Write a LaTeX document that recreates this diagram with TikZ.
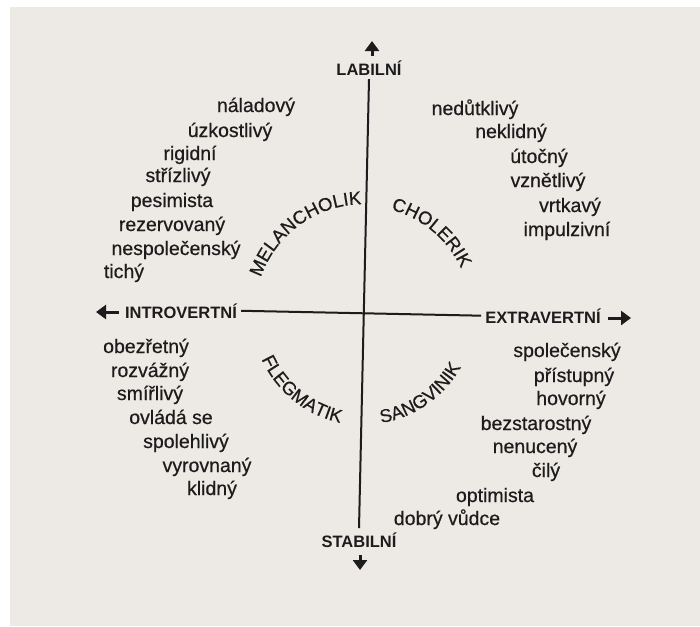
\documentclass[tikz,border=0pt]{standalone}
\usepackage{fontspec}
\setmainfont{Liberation Sans}
\newfontfamily\scanfamily{Liberation Sans}[FakeBold=0.5]
\usetikzlibrary{arrows.meta,decorations.text}
\definecolor{ink}{RGB}{28,28,28}
\definecolor{paper}{RGB}{237,233,228}
\newcommand{\wordfont}{\scanfamily\fontsize{19.5}{22}\selectfont}
\newcommand{\polefont}{\fontsize{16.5}{19}\selectfont\bfseries}
\newcommand{\typefont}{\scanfamily\fontsize{18.5}{21}\selectfont\color{ink}}

\begin{document}
\begin{tikzpicture}[x=1pt, y=1pt,
    word/.style={font=\wordfont, text=ink, inner sep=0pt, anchor=base},
    pole/.style={font=\polefont, text=ink, inner sep=4pt, anchor=base},
    axis/.style={draw=ink, line width=2pt},
    tip/.style={draw=ink, line width=3pt, -{Triangle[length=10pt,width=14pt]}},
    typearc/.style={decorate, decoration={text along path, text align=center}}
]
    % Paper
    \useasboundingbox (0,0) rectangle (700,-626);
    \fill[white] (0,0) rectangle (700,-626);
    \fill[paper] (10,-7) rectangle (700,-626);

    % Poles
    \node[pole] (labil) at (369,-75) {LABILNÍ};
    \node[pole] (stabil) at (359,-547) {STABILNÍ};
    \node[pole] (intro) at (181,-318) {INTROVERTNÍ};
    \node[pole] (extra) at (543,-323) {EXTRAVERTNÍ};

    \draw[axis] (labil.south) -- (stabil.north);
    \draw[axis] (intro.east) -- (extra.west);
    \coordinate (ctr) at (intersection of labil.south--stabil.north and intro.east--extra.west);

    % Small arrows
    \coordinate (upbase) at (372,-56);
    \coordinate (uptip) at (372,-41);
    \coordinate (downbase) at (360,-555);
    \coordinate (downtip) at (360,-570);
    \coordinate (leftbase) at (119,-312);
    \coordinate (lefttip) at (96,-312);
    \coordinate (rightbase) at (608,-318);
    \coordinate (righttip) at (631,-318);
    \draw[tip] (upbase) -- (uptip);
    \draw[tip] (downbase) -- (downtip);
    \draw[tip] (leftbase) -- (lefttip);
    \draw[tip] (rightbase) -- (righttip);

    % Types
    \path[typearc, decoration={text={|\typefont|MELANCHOLIK}}]
        ([shift={(171:109)}]ctr) arc[start angle=171, end angle=81, radius=109];
    \path[typearc, decoration={text={|\typefont|CHOLERIK}}]
        ([shift={(95:107)}]ctr) arc[start angle=95, end angle=5, radius=107];
    \path[typearc, decoration={text={|\typefont|FLEGMATIK}}]
        ([shift={(186:112)}]ctr) arc[start angle=186, end angle=276, radius=112];
    \path[typearc, decoration={text={|\typefont|SANGVINIK}}]
        ([shift={(260:111)}]ctr) arc[start angle=260, end angle=350, radius=111];

    % Melancholik
    \node[word] (mel1) at (256,-112) {náladový};
    \node[word] (mel2) at (230,-137) {úzkostlivý};
    \node[word] (mel3) at (190,-160) {rigidní};
    \node[word] (mel4) at (178,-182) {střízlivý};
    \node[word] (mel5) at (172,-207) {pesimista};
    \node[word] (mel6) at (172,-231) {rezervovaný};
    \node[word] (mel7) at (176,-255) {nespolečenský};
    \node[word] (mel8) at (124,-278) {tichý};

    % Cholerik
    \node[word] (cho1) at (475,-115) {nedůtklivý};
    \node[word] (cho2) at (511,-138) {neklidný};
    \node[word] (cho3) at (539,-163) {útočný};
    \node[word] (cho4) at (548,-187) {vznětlivý};
    \node[word] (cho5) at (570,-212) {vrtkavý};
    \node[word] (cho6) at (567,-236) {impulzivní};

    % Flegmatik
    \node[word] (fle1) at (146,-353) {obezřetný};
    \node[word] (fle2) at (150,-377) {rozvážný};
    \node[word] (fle3) at (150,-400) {smířlivý};
    \node[word] (fle4) at (171,-424) {ovládá se};
    \node[word] (fle5) at (186,-448) {spolehlivý};
    \node[word] (fle6) at (207,-472) {vyrovnaný};
    \node[word] (fle7) at (212,-495) {klidný};

    % Sangvinik
    \node[word] (san1) at (567,-357) {společenský};
    \node[word] (san2) at (574,-382) {přístupný};
    \node[word] (san3) at (571,-405) {hovorný};
    \node[word] (san4) at (536,-430) {bezstarostný};
    \node[word] (san5) at (535,-453) {nenucený};
    \node[word] (san6) at (546,-477) {čilý};
    \node[word] (san7) at (495,-502) {optimista};
    \node[word] (san8) at (447,-525) {dobrý vůdce};
\end{tikzpicture}
\end{document}
